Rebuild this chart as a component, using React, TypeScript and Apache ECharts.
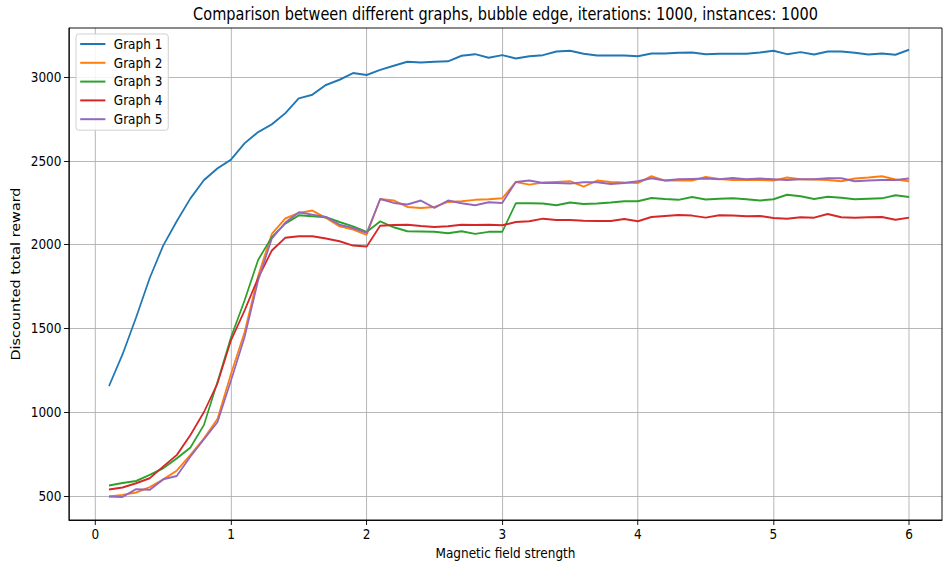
import React, { useEffect, useRef } from 'react';
import * as echarts from 'echarts';

const xValues = [
  0.1, 0.2, 0.3, 0.4, 0.5, 0.6, 0.7, 0.8, 0.9, 1.0,
  1.1, 1.2, 1.3, 1.4, 1.5, 1.6, 1.7, 1.8, 1.9, 2.0,
  2.1, 2.2, 2.3, 2.4, 2.5, 2.6, 2.7, 2.8, 2.9, 3.0,
  3.1, 3.2, 3.3, 3.4, 3.5, 3.6, 3.7, 3.8, 3.9, 4.0,
  4.1, 4.2, 4.3, 4.4, 4.5, 4.6, 4.7, 4.8, 4.9, 5.0,
  5.1, 5.2, 5.3, 5.4, 5.5, 5.6, 5.7, 5.8, 5.9, 6.0,
];

const graph1 = [
  1155, 1345, 1565, 1800, 1995, 2140, 2275, 2385, 2455, 2508,
  2605, 2672, 2718, 2784, 2873, 2895, 2953, 2984, 3024, 3012,
  3043, 3068, 3092, 3087, 3091, 3094, 3127, 3137, 3115, 3131,
  3111, 3125, 3131, 3153, 3157, 3139, 3129, 3129, 3129, 3124,
  3141, 3141, 3145, 3147, 3137, 3139, 3139, 3139, 3147, 3157,
  3137, 3149, 3135, 3153, 3153, 3145, 3135, 3141, 3133, 3163,
];

const graph2 = [
  496, 506, 520, 552, 599, 651, 744, 843, 960, 1230,
  1478, 1815, 2063, 2156, 2189, 2203, 2159, 2109, 2090, 2058,
  2272, 2263, 2225, 2219, 2225, 2255, 2259, 2267, 2271, 2276,
  2374, 2358, 2370, 2374, 2378, 2346, 2382, 2374, 2370, 2368,
  2408, 2382, 2382, 2382, 2404, 2392, 2386, 2386, 2386, 2382,
  2400, 2390, 2388, 2386, 2378, 2394, 2400, 2408, 2388, 2378,
];

const graph3 = [
  562, 577, 589, 625, 665, 724, 788, 923, 1180, 1448,
  1667, 1909, 2044, 2126, 2175, 2169, 2163, 2135, 2109, 2075,
  2139, 2103, 2080, 2078, 2076, 2068, 2080, 2064, 2076, 2076,
  2247, 2247, 2245, 2235, 2251, 2243, 2245, 2251, 2259, 2259,
  2278, 2272, 2267, 2284, 2269, 2274, 2276, 2271, 2263, 2271,
  2298, 2288, 2272, 2286, 2280, 2271, 2274, 2276, 2294, 2284,
];

const graph4 = [
  538, 550, 575, 605, 675, 744, 863, 1000, 1171, 1429,
  1607, 1801, 1964, 2041, 2050, 2050, 2036, 2020, 1994, 1988,
  2113, 2117, 2119, 2111, 2105, 2109, 2119, 2117, 2119, 2115,
  2135, 2139, 2155, 2147, 2147, 2143, 2141, 2141, 2153, 2139,
  2165, 2171, 2177, 2173, 2161, 2175, 2173, 2169, 2171, 2159,
  2155, 2163, 2161, 2183, 2163, 2161, 2163, 2165, 2149, 2161,
];

const graph5 = [
  496, 494, 540, 536, 599, 619, 734, 837, 940, 1190,
  1448, 1786, 2034, 2131, 2193, 2179, 2165, 2119, 2099, 2070,
  2272, 2249, 2239, 2263, 2219, 2263, 2247, 2235, 2253, 2249,
  2374, 2382, 2368, 2368, 2364, 2372, 2372, 2362, 2368, 2378,
  2396, 2382, 2390, 2392, 2394, 2390, 2398, 2390, 2394, 2390,
  2386, 2390, 2390, 2396, 2396, 2378, 2382, 2386, 2386, 2394,
];

const seriesNames = ['Graph 1', 'Graph 2', 'Graph 3', 'Graph 4', 'Graph 5'];
const seriesValues = [graph1, graph2, graph3, graph4, graph5];
const seriesColors = ['#1f77b4', '#ff7f0e', '#2ca02c', '#d62728', '#9467bd'];

const xTicks = [0, 1, 2, 3, 4, 5, 6];
const yTicks = [500, 1000, 1500, 2000, 2500, 3000];

const titleText = 'Comparison between different graphs, bubble edge, iterations: 1000, instances: 1000';
const xAxisName = 'Magnetic field strength';
const yAxisName = 'Discounted total reward';

const FONT = 'DejaVu Sans';

// The reference is horizontally condensed; draw wider and squeeze.
const VIEW_W = 943;
const VIEW_H = 563;
const INNER_W = 1123;
const SX = VIEW_W / INNER_W;

export default function App() {
  const ref = useRef<HTMLDivElement>(null);
  useEffect(() => {
    if (!ref.current) return;
    const chart = echarts.init(ref.current, null, { renderer: 'svg' });
    const gridLeft = 69 / SX;
    const gridRight = 942 / SX;
    const gridTop = 28;
    const gridBottom = 520;
    const option: any = {
      animation: false,
      backgroundColor: '#ffffff',
      textStyle: { fontFamily: FONT },
      grid: {
        left: gridLeft,
        top: gridTop,
        right: INNER_W - gridRight,
        bottom: VIEW_H - gridBottom,
        containLabel: false,
        outerBoundsMode: 'none',
      },
      graphic: [
        {
          type: 'text',
          x: (gridLeft + gridRight) / 2,
          y: 14,
          style: {
            text: titleText,
            align: 'center',
            verticalAlign: 'middle',
            fontFamily: FONT,
            fontSize: 17.3,
            fill: '#000',
          },
        },
        {
          type: 'rect',
          z: 100,
          silent: true,
          shape: { x: gridLeft, y: gridTop, width: gridRight - gridLeft, height: gridBottom - gridTop },
          style: { fill: 'none', stroke: '#000', lineWidth: 1 },
        },
      ],
      legend: {
        orient: 'vertical',
        left: 76 / SX,
        top: 34,
        data: seriesNames,
        icon: 'rect',
        itemWidth: 30,
        itemHeight: 2,
        itemGap: 4.8,
        padding: [3, 7, 4, 5],
        backgroundColor: 'rgba(255,255,255,0.85)',
        borderColor: '#cccccc',
        borderWidth: 1,
        borderRadius: 3,
        textStyle: { fontFamily: FONT, fontSize: 14.4, color: '#000', padding: [0, 0, 0, 5] },
      },
      xAxis: {
        type: 'value',
        min: -0.195,
        max: 6.243,
        name: xAxisName,
        nameLocation: 'middle',
        nameGap: 24,
        nameTextStyle: { fontFamily: FONT, fontSize: 14.4, color: '#000' },
        axisLine: { show: true, onZero: false, lineStyle: { color: '#000', width: 1 } },
        axisTick: { show: true, length: 5, customValues: xTicks, lineStyle: { color: '#000', width: 1 } },
        axisLabel: {
          customValues: xTicks,
          margin: 7,
          fontFamily: FONT,
          fontSize: 14.4,
          color: '#000',
          formatter: (v: number) => String(v),
        },
        splitLine: { show: true, lineStyle: { color: '#b0b0b0', width: 1 } },
      },
      yAxis: {
        type: 'value',
        min: 356,
        max: 3293,
        name: yAxisName,
        nameLocation: 'middle',
        nameGap: 54,
        nameTextStyle: { fontFamily: FONT, fontSize: 14.4, color: '#000' },
        axisLine: { show: true, onZero: false, lineStyle: { color: '#000', width: 1 } },
        axisTick: { show: true, length: 6, customValues: yTicks, lineStyle: { color: '#000', width: 1 } },
        axisLabel: {
          customValues: yTicks,
          margin: 9,
          fontFamily: FONT,
          fontSize: 14.4,
          color: '#000',
          formatter: (v: number) => String(v),
        },
        splitLine: { show: true, lineStyle: { color: '#b0b0b0', width: 1 } },
      },
      series: seriesNames.map((name, i) => ({
        name,
        type: 'line',
        data: xValues.map((x, j) => [x, seriesValues[i][j]]),
        showSymbol: false,
        symbol: 'none',
        lineStyle: { color: seriesColors[i], width: 2 },
        itemStyle: { color: seriesColors[i] },
        z: 2 + i,
      })),
    };
    chart.setOption(option);
    return () => chart.dispose();
  }, []);
  return (
    <div
      style={{
        position: 'fixed',
        left: 0,
        top: 0,
        width: VIEW_W,
        height: VIEW_H,
        overflow: 'hidden',
        background: '#fff',
      }}
    >
      <div
        ref={ref}
        style={{
          width: INNER_W,
          height: VIEW_H,
          transform: `scaleX(${SX})`,
          transformOrigin: '0 0',
        }}
      />
    </div>
  );
}
